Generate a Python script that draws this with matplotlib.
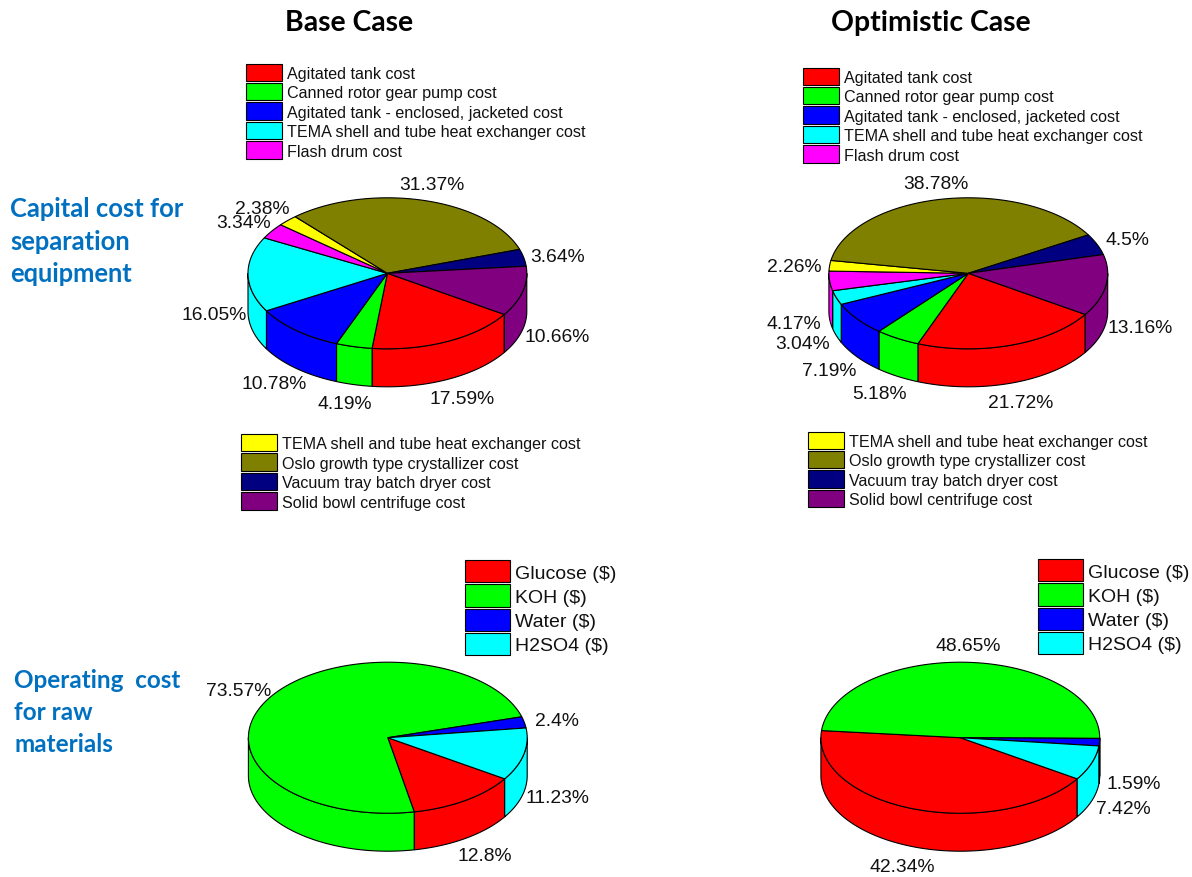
import numpy as np
import matplotlib
matplotlib.use('Agg')
import matplotlib.pyplot as plt
from matplotlib.patches import Patch, Polygon

plt.rcParams['font.family'] = ['Liberation Sans', 'DejaVu Sans']

capital_names_top = ['Agitated tank cost', 'Canned rotor gear pump cost',
                     'Agitated tank - enclosed, jacketed cost',
                     'TEMA shell and tube heat exchanger cost', 'Flash drum cost']
capital_names_bottom = ['TEMA shell and tube heat exchanger cost',
                        'Oslo growth type crystallizer cost',
                        'Vacuum tray batch dryer cost', 'Solid bowl centrifuge cost']
material_names = ['Glucose ($)', 'KOH ($)', 'Water ($)', 'H2SO4 ($)']

capital_base = [17.59, 4.19, 10.78, 16.05, 3.34, 2.38, 31.37, 3.64, 10.66]
capital_optimistic = [21.72, 5.18, 7.19, 3.04, 4.17, 2.26, 38.78, 4.5, 13.16]
material_base = [12.8, 73.57, 2.4, 11.23]
material_optimistic = [42.34, 48.65, 1.59, 7.42]

colors = ['#ff0000', '#00ff00', '#0000ff', '#00ffff', '#ff00ff',
          '#ffff00', '#808000', '#000080', '#800080']

# label centres, in figure pixels
capital_base_labels = [(462, 397.7), (345.3, 403.3), (274, 383.3), (214, 314.3), (243.3, 221.7),
                       (262.7, 208.3), (432, 184), (557.3, 255.7), (556.7, 335.7)]
capital_optimistic_labels = [(1020.7, 402.3), (879.3, 393.3), (829, 370), (802.7, 342.7), (794.3, 322.7),
                             (794.3, 266), (936, 182.7), (1128, 239), (1140, 327.3)]
material_base_labels = [(485, 855), (239, 690), (557.3, 720), (557.3, 797.3)]
material_optimistic_labels = [(902.3, 865.7), (968.3, 645), (1133.3, 782.7), (1123.3, 808.3)]

START = -33.0
RX = 139.4
RY = 75.5
DEPTH = 38.0


def arc(cx, cy, a0, a1, dy=0.0):
    t = np.radians(np.linspace(a0, a1, max(int(abs(a1 - a0)) * 2, 2) + 1))
    return np.column_stack([cx + RX * np.cos(t), cy - RY * np.sin(t) + dy])


def pie3d(ax, values, cx, cy, label_pos):
    fracs = np.array(values) / sum(values) * 360
    ends = START - np.cumsum(fracs)
    starts = ends + fracs

    # walls first, only the part of each slice on the near half of the rim
    for a0, a1, c in zip(starts, ends, colors):
        for hi, lo in [(0, -180), (-360, -540)]:
            p0 = min(a0, hi)
            p1 = max(a1, lo)
            if p0 <= p1:
                continue
            upper = arc(cx, cy, p0, p1)
            lower = arc(cx, cy, p1, p0, DEPTH)
            ax.add_patch(Polygon(np.vstack([upper, lower]), closed=True, fc=c, ec='k', lw=0.8, zorder=2))

    for a0, a1, c in zip(starts, ends, colors):
        pts = np.vstack([[cx, cy], arc(cx, cy, a0, a1)])
        ax.add_patch(Polygon(pts, closed=True, fc=c, ec='k', lw=0.8, zorder=3))

    for v, (x, y) in zip(values, label_pos):
        ax.text(x, y + 1.5, '%g%%' % v, fontsize=13.9, color='#111111', ha='center', va='center', zorder=5)


def add_legend(ax, names, first_color, x, y, fs, hl, hh, spacing, pad):
    handles = [Patch(fc=colors[first_color + i], ec='k', lw=0.8, label=n) for i, n in enumerate(names)]
    leg = ax.legend(handles=handles, loc='upper left', bbox_to_anchor=(x, y), bbox_transform=ax.transData,
                    frameon=False, fontsize=fs, borderpad=0, borderaxespad=0, handlelength=hl,
                    handleheight=hh, handletextpad=pad, labelspacing=spacing)
    for t in leg.get_texts():
        t.set_color('#111111')
    ax.add_artist(leg)
    # several legends on one axes, don't let the last one draw twice
    ax.legend_ = None


fig = plt.figure(figsize=(11.92, 8.78), dpi=100)
ax = fig.add_axes([0, 0, 1, 1])
ax.set_xlim(0, 1192)
ax.set_ylim(878, 0)
ax.axis('off')

pie3d(ax, capital_base, 387.4, 274.3, capital_base_labels)
pie3d(ax, capital_optimistic, 968.3, 274.3, capital_optimistic_labels)
pie3d(ax, material_base, 387.8, 738.7, material_base_labels)
pie3d(ax, material_optimistic, 960.3, 738.7, material_optimistic_labels)

add_legend(ax, capital_names_top, 0, 246, 64.5, 11.65, 2.225, 1.268, 0.135, 0.31)
add_legend(ax, capital_names_bottom, 5, 241, 435, 11.65, 2.225, 1.268, 0.135, 0.31)
add_legend(ax, capital_names_top, 0, 803, 68.5, 11.65, 2.225, 1.268, 0.135, 0.31)
add_legend(ax, capital_names_bottom, 5, 808, 432.5, 11.65, 2.225, 1.268, 0.135, 0.31)
add_legend(ax, material_names, 0, 465, 561, 14.0, 2.32, 1.39, 0.1, 0.25)
add_legend(ax, material_names, 0, 1038, 560, 14.0, 2.32, 1.39, 0.1, 0.25)

ax.text(349, 23, 'Base Case', family='Lato', weight='bold', fontsize=20.4, ha='center', va='center')
ax.text(931, 23, 'Optimistic Case', family='Lato', weight='bold', fontsize=20.4, ha='center', va='center')

blue = '#0070c0'
for s, y in zip(['Capital cost for', 'separation', 'equipment'], [209, 242, 274]):
    ax.text(10, y, s, family='Lato', weight='bold', fontsize=18.4, color=blue, ha='left', va='center')
for s, y in zip(['Operating  cost', 'for raw', 'materials'], [681, 713, 745]):
    ax.text(14, y, s, family='Lato', weight='bold', fontsize=17.5, color=blue, ha='left', va='center')

fig.savefig('out.png', dpi=100)
